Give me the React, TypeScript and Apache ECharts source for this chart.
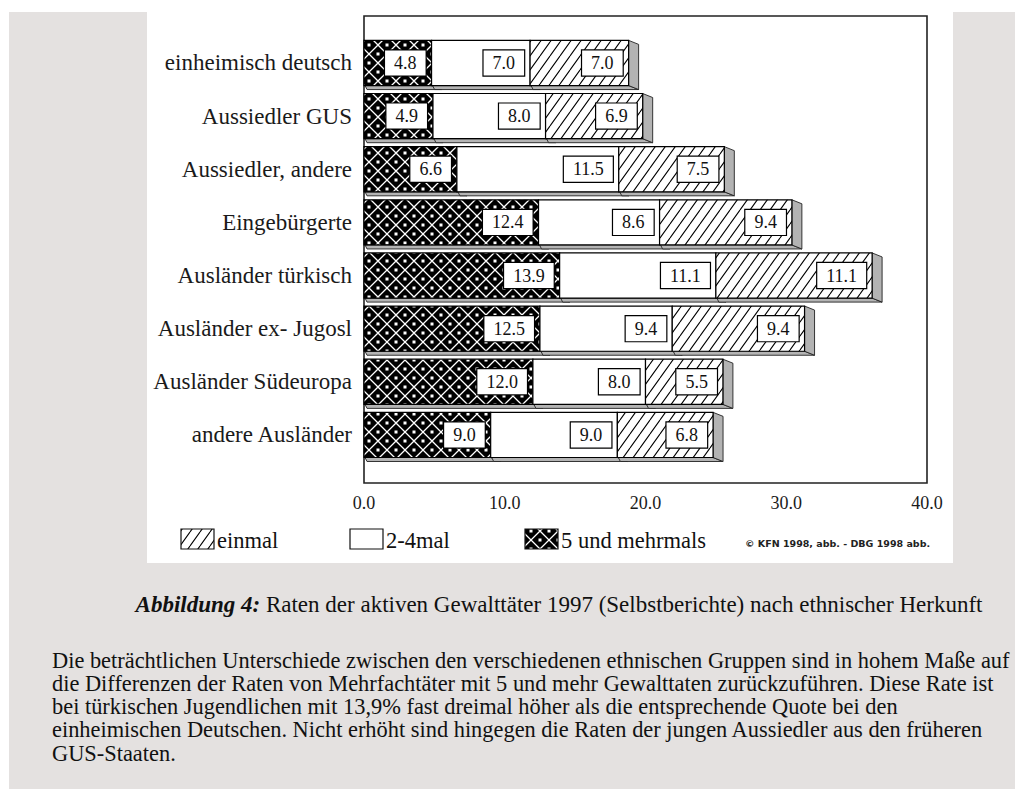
import React, { useEffect, useRef } from "react";
import * as echarts from "echarts";

// ---------- data ----------
const categories = [
  "einheimisch deutsch",
  "Aussiedler GUS",
  "Aussiedler, andere",
  "Eingebürgerte",
  "Ausländer türkisch",
  "Ausländer ex- Jugosl",
  "Ausländer Südeuropa",
  "andere Ausländer",
];
const seriesNames = ["5 und mehrmals", "2-4mal", "einmal"];
const mehrmals = [4.8, 4.9, 6.6, 12.4, 13.9, 12.5, 12.0, 9.0];
const zweiBisVier = [7.0, 8.0, 11.5, 8.6, 11.1, 9.4, 8.0, 9.0];
const einmal = [7.0, 6.9, 7.5, 9.4, 11.1, 9.4, 5.5, 6.8];
const xMin = 0;
const xMax = 40;
const xInterval = 10;
const legendOrder = ["einmal", "2-4mal", "5 und mehrmals"];
const credit = "© KFN 1998, abb. - DBG 1998 abb.";
const captionLabel = "Abbildung 4:";
const captionText = " Raten der aktiven Gewalttäter 1997 (Selbstberichte) nach ethnischer Herkunft";
const paragraphLines = [
  "Die beträchtlichen Unterschiede zwischen den verschiedenen ethnischen Gruppen sind in hohem Maße auf",
  "die Differenzen der Raten von Mehrfachtäter mit 5 und mehr Gewalttaten zurückzuführen. Diese Rate ist",
  "bei türkischen Jugendlichen mit 13,9% fast dreimal höher als die entsprechende Quote bei den",
  "einheimischen Deutschen. Nicht erhöht sind hingegen die Raten der jungen Aussiedler aus den früheren",
  "GUS-Staaten.",
];

const SERIF = "Liberation Serif";

function makeHatch() {
  const w = 10, h = 14;
  const c = document.createElement("canvas");
  c.width = w; c.height = h;
  const ctx = c.getContext("2d")!;
  ctx.fillStyle = "#fff";
  ctx.fillRect(0, 0, w, h);
  ctx.strokeStyle = "#000";
  ctx.lineWidth = 1.1;
  ctx.beginPath();
  ctx.moveTo(0, h); ctx.lineTo(w, 0);
  ctx.moveTo(-w, h); ctx.lineTo(0, 0);
  ctx.moveTo(w, 2 * h); ctx.lineTo(2 * w, 0);
  ctx.moveTo(w, h); ctx.lineTo(2 * w, 0);
  ctx.moveTo(0, h); ctx.lineTo(-w, 2 * h);
  ctx.stroke();
  return { image: c, repeat: "repeat", imageWidth: w, imageHeight: h };
}

function makeLattice() {
  const s = 18;
  const c = document.createElement("canvas");
  c.width = s; c.height = s;
  const ctx = c.getContext("2d")!;
  ctx.fillStyle = "#000";
  ctx.fillRect(0, 0, s, s);
  ctx.strokeStyle = "#fff";
  ctx.lineWidth = 1.3;
  ctx.beginPath();
  ctx.moveTo(0, s / 2); ctx.lineTo(s / 2, 0); ctx.lineTo(s, s / 2); ctx.lineTo(s / 2, s); ctx.closePath();
  ctx.stroke();
  ctx.fillStyle = "#fff";
  ctx.fillRect(s / 2 - 1.5, s / 2 - 1.5, 3, 3);
  ctx.fillRect(0, 0, 1.5, 1.5);
  ctx.fillRect(s - 1.5, 0, 1.5, 1.5);
  ctx.fillRect(0, s - 1.5, 1.5, 1.5);
  ctx.fillRect(s - 1.5, s - 1.5, 1.5, 1.5);
  return { image: c, repeat: "repeat", imageWidth: s, imageHeight: s };
}

export default function App() {
  const ref = useRef<HTMLDivElement>(null);

  useEffect(() => {
    if (!ref.current) return;
    const chart = echarts.init(ref.current, null, { renderer: "svg" });

    const hatch = makeHatch();
    const lattice = makeLattice();
    const fills: any[] = [lattice, "#ffffff", hatch];
    const valueSets = [mehrmals, zweiBisVier, einmal];

    const seriesData = valueSets.map((vals, si) =>
      vals.map((v, ci) => {
        let start = 0;
        for (let k = 0; k < si; k++) start += valueSets[k][ci];
        return [ci, start, v, start + v];
      })
    );

    const makeRender = (si: number) => (params: any, api: any) => {
      const cat = api.value(0);
      const start = api.value(1);
      const val = api.value(2);
      const p0 = api.coord([start, cat]);
      const p1 = api.coord([start + val, cat]);
      const band = api.size([0, 1])[1];
      const h = band * 0.85;
      const x0 = p0[0], x1 = p1[0], yc = p0[1];
      const y0 = yc - h / 2, y1 = yc + h / 2;
      const dx = 10, dy = 4;
      const children: any[] = [];
      children.push({
        type: "polygon",
        shape: { points: [[x0 + 1, y1], [x1, y1], [x1 + dx, y1 + dy], [x0 + 3, y1 + dy]] },
        style: { fill: "#b4b4b4", stroke: "#222", lineWidth: 0.9 },
      });
      if (si === 2) {
        children.push({
          type: "polygon",
          shape: { points: [[x1, y0], [x1 + dx, y0 + dy], [x1 + dx, y1 + dy], [x1, y1]] },
          style: { fill: "#b3b3b3", stroke: "#222", lineWidth: 0.9 },
        });
      }
      children.push({
        type: "rect",
        shape: { x: x0, y: y0, width: x1 - x0, height: h },
        style: { fill: fills[si], stroke: "#000", lineWidth: 1.2 },
      });
      children.push({
        type: "text",
        x: x1 - 6,
        y: yc,
        style: {
          text: val.toFixed(1),
          fontFamily: SERIF,
          fontSize: 18,
          fill: "#111",
          align: "right",
          verticalAlign: "middle",
          backgroundColor: "#fff",
          borderColor: "#000",
          borderWidth: 1.2,
          padding: [4, 9, 3, 9],
        },
      });
      return { type: "group", children };
    };

    const series = seriesNames.map((name, si) => ({
      type: "custom",
      name,
      renderItem: makeRender(si),
      data: seriesData[si],
      encode: { x: [1, 3], y: 0 },
      clip: false,
      z: 2 + si,
    }));

    // legend
    const legendX = [181, 350, 525];
    const legendFill: Record<string, any> = { einmal: hatch, "2-4mal": "#ffffff", "5 und mehrmals": lattice };
    const legendEls: any[] = [];
    legendOrder.forEach((name, i) => {
      legendEls.push({
        type: "rect",
        shape: { x: legendX[i], y: 529, width: 33, height: 20 },
        style: { fill: legendFill[name], stroke: "#111", lineWidth: 1.2 },
        z: 10,
      });
      legendEls.push({
        type: "text",
        x: legendX[i] + 36,
        y: 540,
        style: { text: name, fontFamily: SERIF, fontSize: 22.5, fill: "#111", verticalAlign: "middle" },
        z: 10,
      });
    });

    const paraEls = paragraphLines.map((line, i) => ({
      type: "text",
      x: 52,
      y: 660 + i * 23.3,
      style: { text: line, fontFamily: SERIF, fontSize: 22.4, fill: "#111", verticalAlign: "middle" },
      z: 10,
    }));

    chart.setOption({
      animation: false,
      backgroundColor: "#e4e1e0",
      textStyle: { fontFamily: SERIF },
      grid: { left: 364, right: 88, top: 36.4, bottom: 327.5, containLabel: false },
      xAxis: {
        type: "value",
        min: xMin,
        max: xMax,
        interval: xInterval,
        axisLine: { show: false },
        axisTick: { show: false },
        splitLine: { show: false },
        axisLabel: {
          formatter: (v: number) => v.toFixed(1),
          fontFamily: SERIF,
          fontSize: 18,
          color: "#1a1a1a",
          margin: 32,
        },
      },
      yAxis: {
        type: "category",
        data: categories,
        inverse: true,
        axisLine: { show: false },
        axisTick: { show: false },
        splitLine: { show: false },
        axisLabel: { fontFamily: SERIF, fontSize: 23, color: "#1a1a1a", margin: 12 },
      },
      graphic: [
        { type: "rect", shape: { x: 0, y: 0, width: 1015, height: 12 }, style: { fill: "#ffffff" }, z: -10 },
        { type: "rect", shape: { x: 0, y: 0, width: 9, height: 789 }, style: { fill: "#ffffff" }, z: -10 },
        { type: "rect", shape: { x: 147, y: 0, width: 806, height: 563 }, style: { fill: "#ffffff" }, z: -10 },
        {
          type: "rect",
          shape: { x: 364, y: 16, width: 563, height: 467 },
          style: { fill: "#ffffff", stroke: "#222", lineWidth: 1.6 },
          z: -5,
        },
        ...legendEls,
        {
          type: "text",
          x: 745,
          y: 543,
          style: { text: credit, fontFamily: "DejaVu Sans", fontWeight: "bold", fontSize: 9.5, fill: "#222", verticalAlign: "middle" },
          z: 10,
        },
        {
          type: "text",
          x: 559,
          y: 604,
          style: {
            text: `{b|${captionLabel}}${captionText}`,
            fontFamily: SERIF,
            fontSize: 23,
            fill: "#111",
            align: "center",
            verticalAlign: "middle",
            rich: {
              b: { fontStyle: "italic", fontWeight: "bold", fontSize: 23, fontFamily: SERIF, fill: "#111" },
            },
          },
          z: 10,
        },
        ...paraEls,
      ],
      series,
    });

    return () => chart.dispose();
  }, []);

  return (
    <div
      ref={ref}
      style={{ position: "fixed", left: 0, top: 0, width: 1015, height: 789 }}
    />
  );
}
